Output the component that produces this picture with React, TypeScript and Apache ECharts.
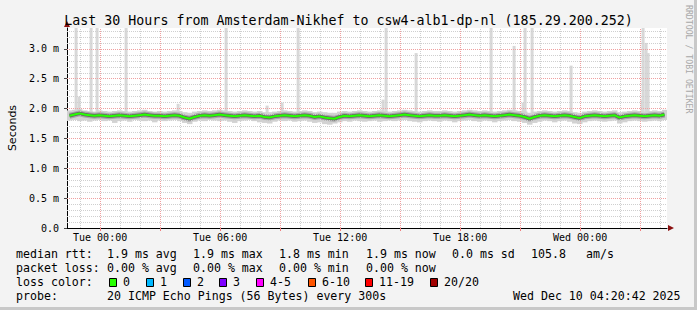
import React, { useEffect, useRef } from "react";
import * as echarts from "echarts";

// ---------- data ----------
const START_HOUR = 22 + 20 / 60 + 42 / 3600; // Mon 22:20:42 (hours since Mon 00:00)
const END_HOUR = START_HOUR + 30;
const BIN_HOURS = 0.25;

// median rtt in ms, one value per 15 minute bin
const medianRtt = [
  1.88, 1.90, 1.92, 1.90, 1.89, 1.88, 1.89, 1.88, 1.87, 1.88,
  1.89, 1.88, 1.87, 1.88, 1.89, 1.90, 1.89, 1.88, 1.88, 1.87,
  1.88, 1.89, 1.88, 1.85, 1.83, 1.86, 1.88, 1.89, 1.88, 1.89,
  1.90, 1.89, 1.88, 1.87, 1.88, 1.89, 1.88, 1.87, 1.88, 1.86,
  1.85, 1.87, 1.88, 1.89, 1.88, 1.87, 1.88, 1.89, 1.88, 1.86,
  1.87, 1.85, 1.84, 1.83, 1.86, 1.88, 1.87, 1.88, 1.89, 1.88,
  1.87, 1.88, 1.89, 1.88, 1.87, 1.88, 1.89, 1.90, 1.89, 1.88,
  1.87, 1.88, 1.89, 1.88, 1.88, 1.89, 1.88, 1.87, 1.88, 1.89,
  1.90, 1.89, 1.88, 1.89, 1.88, 1.87, 1.88, 1.89, 1.90, 1.89,
  1.88, 1.86, 1.83, 1.86, 1.88, 1.89, 1.88, 1.87, 1.88, 1.89,
  1.88, 1.86, 1.84, 1.87, 1.88, 1.89, 1.88, 1.87, 1.88, 1.89,
  1.85, 1.87, 1.88, 1.89, 1.88, 1.87, 1.88, 1.89, 1.88, 1.90,
];

// smoke (spread of the 20 pings) lower and upper edge, ms
const smokeLow = [
  1.80, 1.81, 1.79, 1.80, 1.78, 1.80, 1.81, 1.79, 1.80, 1.76,
  1.79, 1.80, 1.78, 1.81, 1.80, 1.79, 1.80, 1.77, 1.80, 1.79,
  1.80, 1.81, 1.79, 1.76, 1.74, 1.78, 1.80, 1.79, 1.81, 1.80,
  1.79, 1.80, 1.78, 1.76, 1.79, 1.80, 1.81, 1.79, 1.77, 1.76,
  1.75, 1.78, 1.80, 1.79, 1.80, 1.78, 1.79, 1.80, 1.78, 1.76,
  1.77, 1.74, 1.73, 1.75, 1.77, 1.79, 1.78, 1.80, 1.79, 1.78,
  1.79, 1.80, 1.78, 1.79, 1.80, 1.79, 1.80, 1.81, 1.79, 1.78,
  1.77, 1.79, 1.80, 1.79, 1.78, 1.80, 1.79, 1.77, 1.79, 1.80,
  1.81, 1.79, 1.78, 1.80, 1.79, 1.77, 1.79, 1.80, 1.81, 1.79,
  1.78, 1.76, 1.73, 1.76, 1.78, 1.80, 1.79, 1.77, 1.79, 1.80,
  1.78, 1.75, 1.74, 1.77, 1.79, 1.80, 1.79, 1.78, 1.79, 1.80,
  1.75, 1.77, 1.79, 1.80, 1.79, 1.78, 1.79, 1.80, 1.79, 1.81,
];
const smokeHigh = [
  1.97, 1.98, 1.99, 1.97, 1.96, 1.95, 1.97, 1.96, 1.95, 1.96,
  1.97, 1.96, 1.95, 1.96, 1.97, 1.98, 1.96, 1.95, 1.96, 1.95,
  1.96, 1.97, 1.96, 1.94, 1.93, 1.95, 1.96, 1.97, 1.96, 1.97,
  1.98, 1.97, 1.96, 1.95, 1.96, 1.97, 1.96, 1.95, 1.96, 1.94,
  1.94, 1.95, 1.96, 1.97, 1.96, 1.95, 1.96, 1.97, 1.96, 1.94,
  1.95, 1.94, 1.93, 1.93, 1.95, 1.96, 1.95, 1.96, 1.97, 1.96,
  1.95, 1.96, 1.97, 1.96, 1.95, 1.96, 1.97, 1.98, 1.97, 1.96,
  1.95, 1.96, 1.97, 1.96, 1.96, 1.97, 1.96, 1.95, 1.96, 1.97,
  1.98, 1.97, 1.96, 1.97, 1.96, 1.95, 1.96, 1.97, 1.98, 1.97,
  1.96, 1.95, 1.93, 1.95, 1.96, 1.97, 1.96, 1.95, 1.96, 1.97,
  1.96, 1.94, 1.93, 1.95, 1.96, 1.97, 1.96, 1.95, 1.96, 1.97,
  1.94, 1.95, 1.96, 1.97, 1.96, 1.95, 1.96, 1.97, 1.96, 1.98,
];

// outlier pings (slowest ping of a step), hours since Mon 00:00 and ms
const spikeHours = [
  22.80, 22.95, 23.55, 23.85, 25.30, 27.90, 30.30, 32.35, 33.10, 33.90,
  38.15, 38.30, 39.80, 43.55, 44.70, 45.15, 45.25, 45.60, 47.55,
  51.10, 51.15, 51.30, 51.40,
];
const spikeTops = [
  3.40, 2.20, 3.40, 3.40, 3.40, 2.08, 3.40, 2.05, 2.10, 3.40,
  2.15, 3.40, 2.93, 3.40, 3.05, 2.10, 3.40, 3.40, 2.72,
  2.15, 3.40, 3.10, 2.93,
];

const yTickValues = [0, 0.5, 1.0, 1.5, 2.0, 2.5, 3.0];
const yMinorValues = [
  0.1, 0.2, 0.3, 0.4, 0.6, 0.7, 0.8, 0.9, 1.1, 1.2, 1.3, 1.4, 1.6, 1.7, 1.8, 1.9,
  2.1, 2.2, 2.3, 2.4, 2.6, 2.7, 2.8, 2.9, 3.1, 3.2, 3.3,
];
const xLabelHours = [24, 30, 36, 42, 48];
const xLabelTexts = ["Tue 00:00", "Tue 06:00", "Tue 12:00", "Tue 18:00", "Wed 00:00"];
const xMajorHours = [24, 27, 30, 33, 36, 39, 42, 45, 48, 51];
const xMinorHours = [23, 25, 26, 28, 29, 31, 32, 34, 35, 37, 38, 40, 41, 43, 44, 46, 47, 49, 50, 52];

const rttStats = ["1.9 ms avg", "1.9 ms max", "1.8 ms min", "1.9 ms now", "0.0 ms sd", "105.8", "am/s"];
const lossStats = ["0.00 % avg", "0.00 % max", "0.00 % min", "0.00 % now"];
const lossLabels = ["0", "1", "2", "3", "4-5", "6-10", "11-19", "20/20"];
const lossColors = ["#26ff00", "#00b8ff", "#0059ff", "#7e00ff", "#ff00ff", "#ff5500", "#ff0000", "#a10000"];
const probeText = "20 ICMP Echo Pings (56 Bytes) every 300s";
const stampText = "Wed Dec 10 04:20:42 2025";
const titleText = "Last 30 Hours from Amsterdam-Nikhef to csw4-alb1-dp-nl (185.29.200.252)";

// ---------- layout / style ----------
const W = 697;
const H = 310;
const MONO = '"DejaVu Sans Mono", monospace';
const LEGEND_FONT = `11.6px ${MONO}`;

export default function App() {
  const ref = useRef<HTMLDivElement>(null);

  useEffect(() => {
    document.body.style.margin = "0";
    if (!ref.current) return;
    const chart = echarts.init(ref.current, undefined, { renderer: "svg" });

    const binT = (i: number) => START_HOUR + (i + 0.5) * BIN_HOURS;
    const medianData = medianRtt.map((v, i) => [binT(i), v]);
    const smokeData = smokeLow.map((lo, i) => [binT(i), lo, smokeHigh[i]]);
    const spikeData = spikeHours.map((h, i) => [h, spikeTops[i]]);

    const texts: any[] = [];
    const addText = (text: string, x: number, y: number) =>
      texts.push({
        type: "text",
        x,
        y,
        silent: true,
        style: { text, font: LEGEND_FONT, fill: "#000", align: "left", verticalAlign: "middle" },
      });

    const rttX = [107, 193, 279, 366, 452, 531, 586];
    addText("median rtt:", 16, 254);
    rttStats.forEach((s, i) => addText(s, rttX[i], 254));
    addText("packet loss:", 16, 268);
    lossStats.forEach((s, i) => addText(s, rttX[i], 268));
    addText("loss color:", 16, 282);
    const boxX = [109, 146, 183, 219, 256, 308, 365, 430];
    lossLabels.forEach((l, i) => {
      texts.push({
        type: "rect",
        silent: true,
        shape: { x: boxX[i] + 0.5, y: 278.5, width: 7, height: 8 },
        style: { fill: lossColors[i], stroke: "#000", lineWidth: 1 },
      });
      addText(l, boxX[i] + 14, 282);
    });
    addText("probe:", 16, 296);
    addText(probeText, 107, 296);
    addText(stampText, 513, 296);

    const gridLine = (vals: number[], axis: "xAxis" | "yAxis", color: string) =>
      vals.map((v) => ({ [axis]: v, lineStyle: { color, type: [1, 1], width: 1 } }));

    chart.setOption({
      animation: false,
      backgroundColor: "#f3f3f3",
      title: {
        text: titleText,
        left: "center",
        top: 9,
        textStyle: { fontFamily: MONO, fontSize: 13.3, fontWeight: "normal", color: "#000" },
      },
      grid: {
        left: 67,
        width: 600,
        top: 28,
        height: 200,
        containLabel: false,
        outerBoundsMode: "none",
        show: true,
        backgroundColor: "#ffffff",
        borderWidth: 0,
      },
      xAxis: {
        type: "value",
        min: START_HOUR,
        max: END_HOUR,
        axisLine: { show: true, lineStyle: { color: "#000", width: 1 } },
        axisTick: {
          show: true,
          customValues: xMajorHours,
          length: 3,
          lineStyle: { color: "#f08080" },
        },
        axisLabel: {
          show: true,
          customValues: xLabelHours,
          formatter: (v: number) => {
            const k = xLabelHours.findIndex((h) => Math.abs(h - Number(v)) < 1e-6);
            return k >= 0 ? xLabelTexts[k] : "";
          },
          fontFamily: MONO,
          fontSize: 10,
          color: "#000",
          margin: 4,
        },
        splitLine: { show: false },
      },
      yAxis: {
        type: "value",
        min: 0,
        max: 3.35,
        name: "Seconds",
        nameLocation: "middle",
        nameGap: 49,
        nameTextStyle: { fontFamily: '"DejaVu Sans", sans-serif', fontSize: 11, color: "#000" },
        axisLine: { show: true, lineStyle: { color: "#000", width: 1 } },
        axisTick: { show: true, customValues: yTickValues, length: 3, lineStyle: { color: "#444" } },
        axisLabel: {
          customValues: yTickValues,
          formatter: (v: number) => (Math.abs(Number(v)) < 1e-9 ? "0.0" : Number(v).toFixed(1) + " m"),
          fontFamily: MONO,
          fontSize: 10,
          color: "#000",
          margin: 8,
        },
        splitLine: { show: false },
      },
      graphic: [
        {
          type: "text",
          x: 689,
          y: 5,
          rotation: -Math.PI / 2,
          silent: true,
          style: {
            text: "RRDTOOL / TOBI OETIKER",
            font: `8.2px ${MONO}`,
            fill: "#a8a8a8",
            align: "left",
            verticalAlign: "middle",
          },
        },
        {
          type: "polygon",
          silent: true,
          shape: { points: [[64, 27], [70, 27], [67, 21]] },
          style: { fill: "#8b1010" },
        },
        {
          type: "polygon",
          silent: true,
          shape: { points: [[668, 225], [668, 231], [674, 228]] },
          style: { fill: "#8b1010" },
        },
        { type: "rect", silent: true, shape: { x: W - 3, y: 0, width: 3, height: H }, style: { fill: "#c8c8c8" } },
        { type: "rect", silent: true, shape: { x: 0, y: H - 3, width: W, height: 3 }, style: { fill: "#c8c8c8" } },
        ...texts,
      ],
      series: [
        {
          // carrier of the dotted grid
          type: "line",
          z: 1,
          silent: true,
          data: medianData,
          showSymbol: false,
          lineStyle: { opacity: 0 },
          markLine: {
            silent: true,
            symbol: "none",
            label: { show: false },
            emphasis: { disabled: true },
            animation: false,
            data: [
              ...gridLine(xMinorHours, "xAxis", "#cfcfcf"),
              ...gridLine(yMinorValues, "yAxis", "#cfcfcf"),
              ...gridLine(xMajorHours, "xAxis", "#f0a0a0"),
              ...gridLine(yTickValues.filter((v) => v > 0), "yAxis", "#f0a0a0"),
            ],
          },
        },
        {
          type: "custom",
          z: 2,
          silent: true,
          clip: true,
          data: spikeData,
          renderItem: (params: any, api: any) => {
            const t = api.value(0);
            const top = api.coord([t, api.value(1)]);
            const base = api.coord([t, 1.9]);
            return {
              type: "rect",
              shape: { x: top[0] - 1.5, y: top[1], width: 3, height: base[1] - top[1] },
              style: { fill: "#d8d8d8" },
            };
          },
        },
        {
          type: "custom",
          z: 3,
          silent: true,
          clip: true,
          data: smokeData,
          renderItem: (params: any, api: any) => {
            const t = api.value(0);
            const p1 = api.coord([t - BIN_HOURS / 2, api.value(2)]);
            const p2 = api.coord([t + BIN_HOURS / 2, api.value(1)]);
            return {
              type: "rect",
              shape: { x: p1[0], y: p1[1], width: p2[0] - p1[0] + 0.5, height: p2[1] - p1[1] },
              style: { fill: "#d2d2d2" },
            };
          },
        },
        {
          type: "line",
          z: 4,
          silent: true,
          data: medianData,
          showSymbol: false,
          lineStyle: { color: "#a8a8a8", width: 6 },
        },
        {
          type: "line",
          z: 5,
          silent: true,
          data: medianData,
          showSymbol: false,
          lineStyle: { color: "#666666", width: 3.5 },
        },
        {
          type: "line",
          z: 6,
          silent: true,
          data: medianData,
          showSymbol: false,
          lineStyle: { color: "#26ff00", width: 2 },
        },
      ],
    });

    return () => chart.dispose();
  }, []);

  return (
    <div style={{ position: "absolute", left: 0, top: 0, width: W, height: H, background: "#f3f3f3" }}>
      <div ref={ref} style={{ width: W, height: H }} />
    </div>
  );
}
